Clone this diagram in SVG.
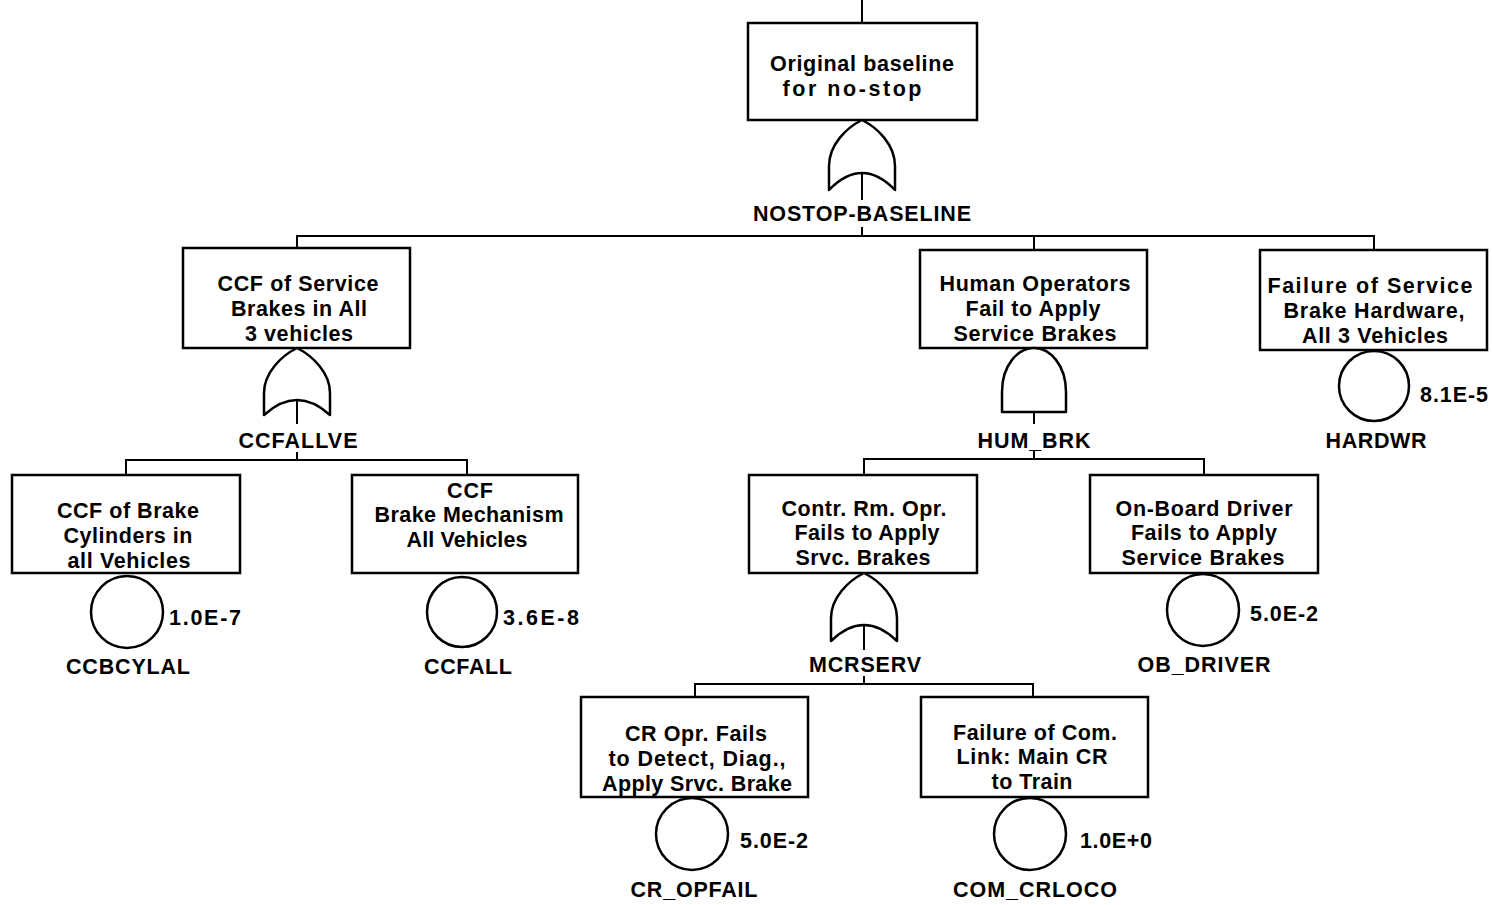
<svg xmlns="http://www.w3.org/2000/svg" width="1492" height="905" viewBox="0 0 1492 905">
<style>
.bx{fill:#fff;stroke:#000;stroke-width:2.5}
.ln{fill:none;stroke:#000;stroke-width:2}
.gt{fill:#fff;stroke:#000;stroke-width:2.5;stroke-linejoin:round}
.ev{fill:#fff;stroke:#000;stroke-width:2.5}
text{font-family:"Liberation Sans",Arial,sans-serif;font-size:21.5px;font-weight:bold;fill:#000}
.c{text-anchor:middle}
.s{text-anchor:start}
</style>
<rect width="1492" height="905" fill="#fff"/>
<g id="connectors">
<path class="ln" d="M862,0V23"/>
<path class="ln" d="M862,173V200M862,227V236M297,248V236H1374V250M1034,236V250"/>
<path class="ln" d="M297,400V424M297,452V460M126,475V460H467V475"/>
<path class="ln" d="M1034,412V424M1034,450V459M864,475V459H1204V475"/>
<path class="ln" d="M864,625V650M864,676V684M695,697V684H1033V697"/>
</g>
<g id="top">
<rect class="bx" x="748" y="23" width="229" height="97"/>
<text class="c" x="862" y="71" textLength="184">Original baseline</text>
<text class="c" x="852" y="96" textLength="139">for no-stop</text>
<path class="gt" d="M862,120C846,128 829,145 829,166L829,190Q862,156 895,190L895,166C895,145 878,128 862,120Z"/>
<text class="c" x="862" y="221" textLength="218">NOSTOP-BASELINE</text>
</g>
<g id="ccfallve">
<rect class="bx" x="183" y="248" width="227" height="100"/>
<text class="c" x="298" y="291" textLength="161">CCF of Service</text>
<text class="c" x="299" y="316" textLength="136">Brakes in All</text>
<text class="c" x="299" y="341" textLength="108">3 vehicles</text>
<path class="gt" d="M297,348C281,356 264,373 264,393L264,415Q297,385 330,415L330,393C330,373 313,356 297,348Z"/>
<text class="c" x="298" y="448" textLength="119">CCFALLVE</text>
</g>
<g id="hum_brk">
<rect class="bx" x="920" y="250" width="227" height="98"/>
<text class="c" x="1035" y="291" textLength="191">Human Operators</text>
<text class="c" x="1033" y="316" textLength="135">Fail to Apply</text>
<text class="c" x="1035" y="341" textLength="163">Service Brakes</text>
<path class="gt" d="M1002,412L1002,392C1002,365 1018,348 1034,348C1050,348 1066,365 1066,392L1066,412Z"/>
<text class="c" x="1034" y="448" textLength="113">HUM_BRK</text>
</g>
<g id="hardwr">
<rect class="bx" x="1260" y="250" width="227" height="100"/>
<text class="c" x="1370" y="293" textLength="205">Failure of Service</text>
<text class="c" x="1374" y="318" textLength="181">Brake Hardware,</text>
<text class="c" x="1375" y="343" textLength="146">All 3 Vehicles</text>
<circle class="ev" cx="1374" cy="386" r="35"/>
<text class="s" x="1420" y="402" textLength="68">8.1E-5</text>
<text class="c" x="1376" y="448" textLength="101">HARDWR</text>
</g>
<g id="ccbcylal">
<rect class="bx" x="12" y="475" width="228" height="98"/>
<text class="c" x="128" y="518" textLength="142">CCF of Brake</text>
<text class="c" x="128" y="543" textLength="129">Cylinders in</text>
<text class="c" x="129" y="568" textLength="123">all Vehicles</text>
<circle class="ev" cx="127" cy="612" r="36"/>
<text class="s" x="169" y="625" textLength="72">1.0E-7</text>
<text class="c" x="128" y="674" textLength="124">CCBCYLAL</text>
</g>
<g id="ccfall">
<rect class="bx" x="352" y="475" width="226" height="98"/>
<text class="c" x="470" y="498" textLength="46">CCF</text>
<text class="c" x="469" y="522" textLength="189">Brake Mechanism</text>
<text class="c" x="467" y="547" textLength="121">All Vehicles</text>
<circle class="ev" cx="462" cy="612" r="35"/>
<text class="s" x="503" y="625" textLength="76">3.6E-8</text>
<text class="c" x="468" y="674" textLength="88">CCFALL</text>
</g>
<g id="mcrserv">
<rect class="bx" x="749" y="475" width="228" height="98"/>
<text class="c" x="864" y="516" textLength="165">Contr. Rm. Opr.</text>
<text class="c" x="867" y="540" textLength="145">Fails to Apply</text>
<text class="c" x="863" y="565" textLength="135">Srvc. Brakes</text>
<path class="gt" d="M864,573C848,581 831,598 831,618L831,641Q864,609 897,641L897,618C897,598 880,581 864,573Z"/>
<text class="c" x="865" y="672" textLength="112">MCRSERV</text>
</g>
<g id="ob_driver">
<rect class="bx" x="1090" y="475" width="228" height="98"/>
<text class="c" x="1204" y="516" textLength="177">On-Board Driver</text>
<text class="c" x="1204" y="540" textLength="146">Fails to Apply</text>
<text class="c" x="1203" y="565" textLength="163">Service Brakes</text>
<circle class="ev" cx="1203" cy="610" r="36"/>
<text class="s" x="1250" y="621" textLength="68">5.0E-2</text>
<text class="c" x="1204" y="672" textLength="133">OB_DRIVER</text>
</g>
<g id="cr_opfail">
<rect class="bx" x="581" y="697" width="227" height="100"/>
<text class="c" x="696" y="741" textLength="142">CR Opr. Fails</text>
<text class="c" x="697" y="766" textLength="177">to Detect, Diag.,</text>
<text class="c" x="697" y="791" textLength="190">Apply Srvc. Brake</text>
<circle class="ev" cx="692" cy="834" r="36"/>
<text class="s" x="740" y="848" textLength="68">5.0E-2</text>
<text class="c" x="694" y="897" textLength="127">CR_OPFAIL</text>
</g>
<g id="com_crloco">
<rect class="bx" x="921" y="697" width="227" height="100"/>
<text class="c" x="1035" y="740" textLength="164">Failure of Com.</text>
<text class="c" x="1032" y="764" textLength="151">Link: Main CR</text>
<text class="c" x="1032" y="789" textLength="81">to Train</text>
<circle class="ev" cx="1030" cy="834" r="36"/>
<text class="s" x="1080" y="848" textLength="72">1.0E+0</text>
<text class="c" x="1035" y="897" textLength="164">COM_CRLOCO</text>
</g>
</svg>
